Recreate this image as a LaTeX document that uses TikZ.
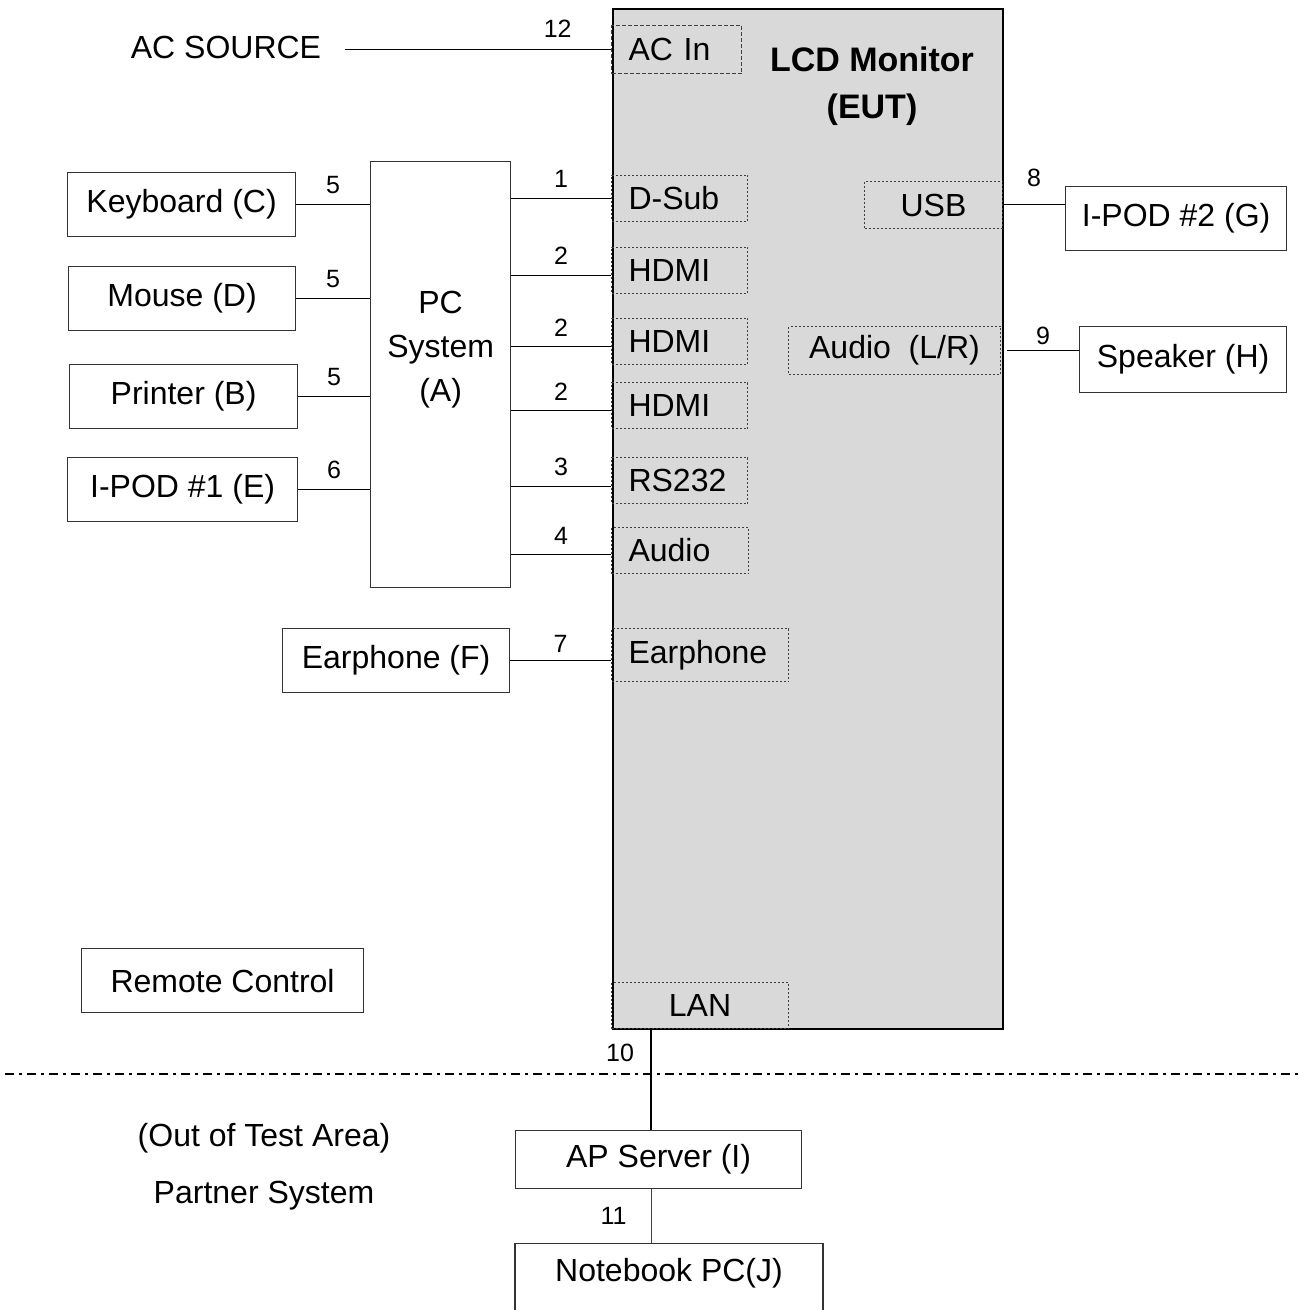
\documentclass[tikz,border=0pt]{standalone}
\usepackage{fontspec}
\setmainfont{Liberation Sans}
\definecolor{eutgray}{RGB}{217,217,217}
\newcommand\txtsize{\fontsize{16}{22}\selectfont}
\newcommand\numsize{\fontsize{12.5}{14}\selectfont}
\newcommand\ttlsize{\fontsize{17}{23.5}\selectfont}

\begin{document}
\begin{tikzpicture}[x=0.5pt,y=-0.5pt,
dev/.style={%
draw=black!80,
line width=0.6pt,
anchor=north west,
inner sep=0pt,
font=\txtsize,
minimum height=32pt
},
port/.style={%
draw=black!75,
line width=0.5pt,
dash pattern=on 1pt off 1pt,
anchor=north west,
inner xsep=8.5pt,
inner ysep=0pt,
align=left,
font=\txtsize,
minimum height=23pt
},
wire/.style={%
line width=0.5pt
},
num/.style={%
font=\numsize,
inner sep=0pt
},
]
\useasboundingbox (0,0) rectangle (1303,1310);
%% EUT
\node[draw,line width=1pt,fill=eutgray,anchor=north west,inner sep=0pt,
minimum width=195pt,minimum height=510pt]at(612,8)(lcd){};
\node[font=\ttlsize\bfseries,align=center]at(872,86)(title){LCD Monitor\\(EUT)};
\node[port,dash pattern=on 2pt off 1pt,line width=0.6pt,
minimum width=65pt,minimum height=24pt,text width=48pt]at(611,25)(acin){AC In};
\node[port,minimum width=68pt,text width=51pt]at(611,175)(dsub){D-Sub};
\node[port,minimum width=68pt,text width=51pt]at(611,247)(hdmi1){HDMI};
\node[port,minimum width=68pt,text width=51pt]at(611,318)(hdmi2){HDMI};
\node[port,minimum width=68pt,text width=51pt]at(611,382)(hdmi3){HDMI};
\node[port,minimum width=68pt,text width=51pt]at(611,457)(rs232){RS232};
\node[port,minimum width=68.5pt,text width=51.5pt]at(611,527)(audio){Audio};
\node[port,minimum width=88.5pt,minimum height=26.5pt,text width=71.5pt]at(611,628)(earp){Earphone};
\node[port,minimum width=88.5pt]at(611,982)(lan){LAN};
\node[port,minimum width=69pt,minimum height=23.5pt]at(864,181)(usb){USB};
\node[port,minimum width=106pt,minimum height=24pt]at(788,326)(audiolr){Audio\ \ (L/R)};
%% PC side
\node[dev,minimum width=70pt,minimum height=213pt,
label={[align=center,font=\txtsize,yshift=12.5pt]center:PC\\System\\(A)}]at(370,161)(pc){};
\node[dev,minimum width=114pt]at(67,172)(kbd){Keyboard (C)};
\node[dev,minimum width=113.5pt]at(68,266)(mouse){Mouse (D)};
\node[dev,minimum width=114pt]at(69,364)(prn){Printer (B)};
\node[dev,minimum width=115pt]at(67,457)(ipod1){I-POD \#1 (E)};
\node[dev,minimum width=113.5pt]at(282,628)(earph){Earphone (F)};
\node[dev,minimum width=141pt]at(81,948)(remote){Remote Control};
%% right side
\node[dev,minimum width=110.5pt]at(1065,186)(ipod2){I-POD \#2 (G)};
\node[dev,minimum width=103.5pt,minimum height=33pt]at(1079,326)(spk){Speaker (H)};
%% power
\node[font=\txtsize,inner xsep=11.5pt]at(226,47)(acsrc){AC SOURCE};
\draw[wire](acsrc.east|-acin.west)--node[num,pos=0.8,above=6pt]{12}(acin.west);
%% cables
\draw[wire](kbd.east)--node[num,above=5pt]{5}(kbd.east-|pc.west);
\draw[wire](mouse.east)--node[num,above=5pt]{5}(mouse.east-|pc.west);
\draw[wire](prn.east)--node[num,above=5pt]{5}(prn.east-|pc.west);
\draw[wire](ipod1.east)--node[num,above=5pt]{6}(ipod1.east-|pc.west);
\draw[wire](dsub.west-|pc.east)--node[num,above=5pt]{1}(dsub.west);
\draw[wire]([yshift=-2.5pt]hdmi1.west-|pc.east)--node[num,above=5pt]{2}([yshift=-2.5pt]hdmi1.west);
\draw[wire]([yshift=-2.5pt]hdmi2.west-|pc.east)--node[num,above=5pt]{2}([yshift=-2.5pt]hdmi2.west);
\draw[wire]([yshift=-2.5pt]hdmi3.west-|pc.east)--node[num,above=5pt]{2}([yshift=-2.5pt]hdmi3.west);
\draw[wire]([yshift=-3pt]rs232.west-|pc.east)--node[num,above=5pt]{3}([yshift=-3pt]rs232.west);
\draw[wire]([yshift=-2pt]audio.west-|pc.east)--node[num,above=5pt]{4}([yshift=-2pt]audio.west);
\draw[wire](earph.east)--node[num,above=4pt]{7}(earph.east-|earp.west);
\draw[wire](usb.east)--node[num,above=9pt]{8}(usb.east-|ipod2.west);
\draw[wire]([xshift=3pt]audiolr.east)--node[num,above=2.5pt]{9}(audiolr.east-|spk.west);
%% out of test area
\draw[line width=1pt,dash pattern=on 4.5pt off 2.5pt on 1.5pt off 2.5pt](5,1074)--(1303,1074);
\node[font=\txtsize]at(264,1138)(out){(Out of Test Area)};
\node[font=\txtsize]at(264,1196)(partner){Partner System};
\node[dev,minimum width=143pt,minimum height=29pt]at(515,1130)(apsrv){AP Server (I)};
\node[dev,anchor=north,minimum width=154pt,text height=19pt,text depth=40pt]at(669,1243)(nb){Notebook PC(J)};
\coordinate(lanpt)at(651,1028);
\draw[line width=1pt](lanpt)--node[num,pos=0.24,left=8pt]{10}(lanpt|-apsrv.north);
\draw[wire,black!75](lanpt|-apsrv.south)--node[num,black,pos=0.5,left=12pt]{11}(lanpt|-nb.north);
\end{tikzpicture}
\end{document}
